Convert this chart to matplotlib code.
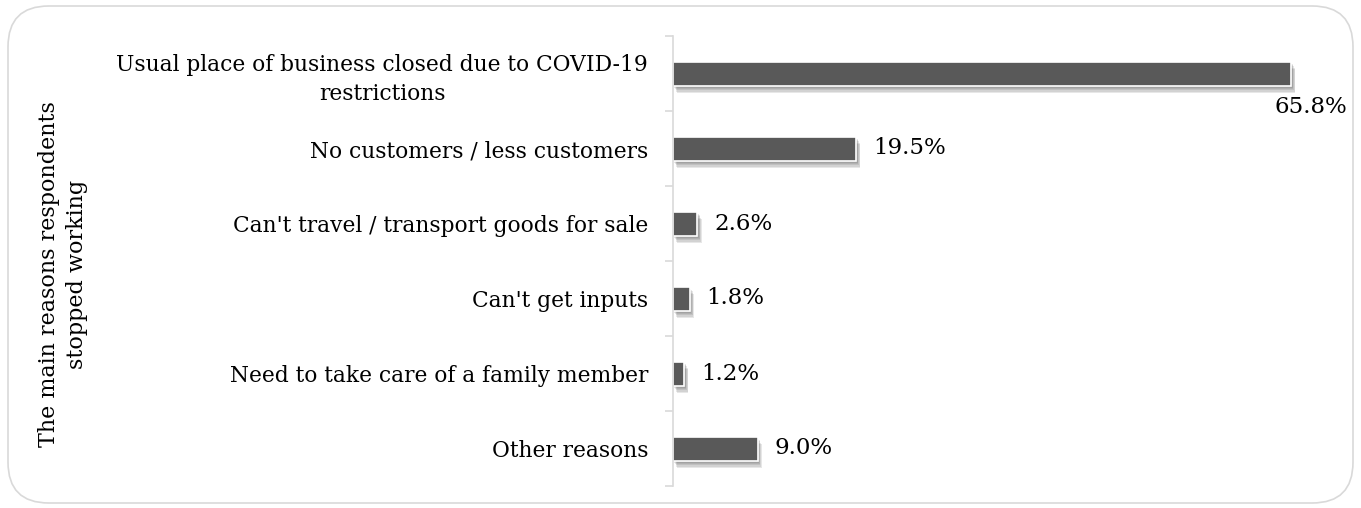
import matplotlib.pyplot as plt
import matplotlib.patheffects as pe
from matplotlib.patches import FancyBboxPatch

# chart data
reasons = [
    'Usual place of business closed due to COVID-19\nrestrictions',
    'No customers / less customers',
    "Can't travel / transport goods for sale",
    "Can't get inputs",
    'Need to take care of a family member',
    'Other reasons',
]
shares = [65.8, 19.5, 2.6, 1.8, 1.2, 9.0]
value_labels = ['65.8%', '19.5%', '2.6%', '1.8%', '1.2%', '9.0%']
y_title = 'The main reasons respondents\nstopped working'

BAR_COLOR = '#595959'
AXIS_COLOR = '#d9d9d9'
FONT = ['DejaVu Serif']

plt.rcParams['font.family'] = FONT

fig = plt.figure(figsize=(13.61, 5.08), dpi=100)

# rounded chart border
border = FancyBboxPatch((8 / 1361, 5 / 508), 1345 / 1361, 497 / 508,
                        boxstyle='round,pad=0,rounding_size=0.03',
                        transform=fig.transFigure, facecolor='white',
                        edgecolor=AXIS_COLOR, linewidth=1.2,
                        mutation_aspect=1361 / 508, zorder=-1)
fig.patches.append(border)

ax = fig.add_axes([673 / 1361, 22 / 508, 667 / 1361, 450 / 508])
ax.set_facecolor('none')

pos = list(range(len(reasons)))
bars = ax.barh(pos, shares, height=0.32, color=BAR_COLOR,
               edgecolor='white', linewidth=1.2)

# soft drop shadow: a few stacked, offset translucent copies
shadow = [pe.SimplePatchShadow(offset=(dx, dy), alpha=0.12,
                               shadow_rgbFace='#404040')
          for dx, dy in [(1, -1.5), (1.5, -2.5), (2, -3.5), (2.5, -4.5),
                         (3, -5.5)]]
for b in bars:
    b.set_path_effects(shadow + [pe.Normal()])

ax.set_xlim(0, 71)
ax.set_ylim(len(reasons) - 0.5, -0.5)

# value labels
for i, (v, lab) in enumerate(zip(shares, value_labels)):
    if i == 0:
        ax.annotate(lab, (v, i), xytext=(14, -16), textcoords='offset points',
                    ha='center', va='top', fontsize=16.5)
    else:
        ax.annotate(lab, (v, i), xytext=(12, 0), textcoords='offset points',
                    ha='left', va='center', fontsize=16.5)

ax.set_yticks(pos)
ax.set_yticklabels(reasons, fontsize=15.7, multialignment='center',
                   linespacing=1.4)
ax.tick_params(axis='y', which='major', length=0, pad=18)
ax.set_yticks([p - 0.5 for p in pos] + [len(reasons) - 0.5], minor=True)
ax.tick_params(axis='y', which='minor', length=6, color=AXIS_COLOR, width=1.2)
ax.set_xticks([])

for s in ['top', 'right', 'bottom']:
    ax.spines[s].set_visible(False)
ax.spines['left'].set_color(AXIS_COLOR)
ax.spines['left'].set_linewidth(1.2)

fig.text(63 / 1361, (508 - 274) / 508, y_title, rotation=90, ha='center',
         va='center', fontsize=16, multialignment='center', linespacing=1.3)

fig.savefig('out.png', dpi=100)
